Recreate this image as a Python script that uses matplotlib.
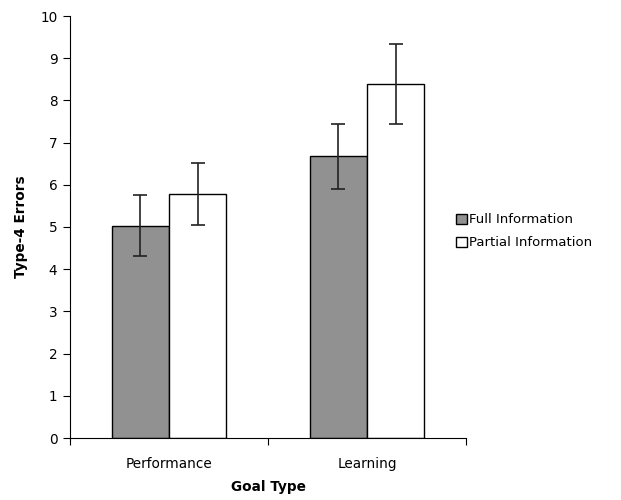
import numpy as np
import matplotlib
matplotlib.use("Agg")
import matplotlib.pyplot as plt

goals = ["Performance", "Learning"]
series = ["Full Information", "Partial Information"]
means = {
    "Full Information": [5.03, 6.68],
    "Partial Information": [5.78, 8.38],
}
errors = {
    "Full Information": [0.72, 0.77],
    "Partial Information": [0.73, 0.95],
}
colors = {"Full Information": "#919191", "Partial Information": "#ffffff"}

fig = plt.figure(figsize=(6.21, 5.0), dpi=100)
ax = fig.add_axes([0.1127, 0.124, 0.6377, 0.844])

x = np.arange(len(goals))
w = 0.288
for i, s in enumerate(series):
    pos = x + (i - 0.5) * w
    ax.bar(pos, means[s], width=w, color=colors[s], edgecolor="black",
           linewidth=1.0, label=s, zorder=2)
    ax.errorbar(pos, means[s], yerr=errors[s], fmt="none", ecolor="#222222",
                elinewidth=1.2, capsize=5, capthick=1.2, zorder=3)

ax.set_xlim(-0.5, 1.5)
ax.set_ylim(0, 10)
ax.set_yticks(range(0, 11))
ax.set_xticks([-0.5, 0.5, 1.5], minor=False)
ax.set_xticklabels([])
ax.set_xticks(x, minor=True)
ax.set_xticklabels(goals, minor=True)
ax.tick_params(axis="x", which="minor", length=0, pad=14, labelsize=9.8)
ax.tick_params(axis="x", which="major", length=5, direction="out")
ax.tick_params(axis="y", length=5, direction="out", labelsize=9.8, pad=4)
for side in ["top", "right"]:
    ax.spines[side].set_visible(False)

ax.set_xlabel("Goal Type", fontweight="bold", fontsize=9.8, labelpad=6)
ax.set_ylabel("Type-4 Errors", fontweight="bold", fontsize=9.8, labelpad=9)

ax.legend(loc="center left", bbox_to_anchor=(0.945, 0.49), frameon=False,
          fontsize=9.5, handlelength=0.8, handleheight=0.8, handletextpad=0.15,
          labelspacing=0.75)

plt.savefig("out.png", dpi=100)
